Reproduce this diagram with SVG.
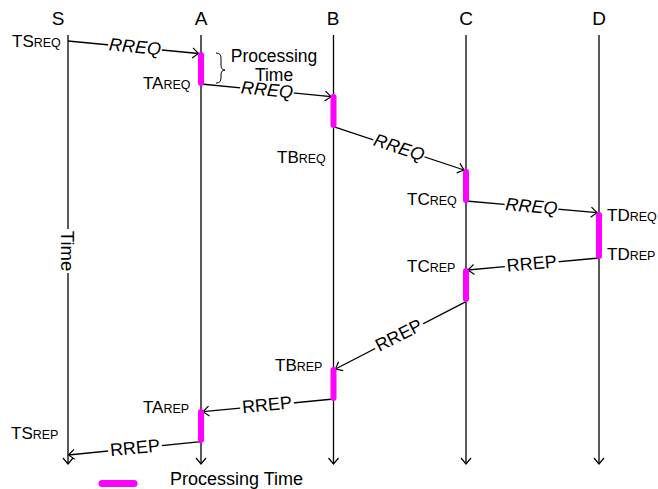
<svg xmlns="http://www.w3.org/2000/svg" width="658" height="489" viewBox="0 0 658 489">
<defs>
<style>
text{font-family:"Liberation Sans",Arial,sans-serif;fill:#000}
.hdr{font-size:19px;text-anchor:middle}
.t{font-size:17px}
.sub{font-size:12.5px}
.lbl{font-size:18px;text-anchor:middle}
.ann{font-size:17.5px;text-anchor:middle}
.it{font-style:italic}
.life{stroke:#000;stroke-width:1.3;fill:none}
.msg{stroke:#000;stroke-width:1.3;fill:none;marker-end:url(#ah)}
.bar{stroke:#FF00FF;stroke-width:6;stroke-linecap:round;fill:none}
.bg{fill:#fff}
</style>
<marker id="ah" markerUnits="userSpaceOnUse" viewBox="-8 -7 10 14" refX="0" refY="0" markerWidth="10" markerHeight="14" orient="auto">
<path d="M-6,-5 L0,0 L-6,5" fill="none" stroke="#000" stroke-width="1.2"/>
</marker>
</defs>

<g id="lifelines">
<g id="node-S"><text class="hdr" x="58" y="25">S</text><line class="life" x1="68" y1="35" x2="68" y2="464" marker-end="url(#ah)"/></g>
<g id="node-A"><text class="hdr" x="201" y="25">A</text><line class="life" x1="201" y1="35" x2="201" y2="464" marker-end="url(#ah)"/></g>
<g id="node-B"><text class="hdr" x="333" y="25">B</text><line class="life" x1="333.5" y1="35" x2="333.5" y2="464" marker-end="url(#ah)"/></g>
<g id="node-C"><text class="hdr" x="466" y="25">C</text><line class="life" x1="466" y1="35" x2="466" y2="464" marker-end="url(#ah)"/></g>
<g id="node-D"><text class="hdr" x="599" y="25">D</text><line class="life" x1="599" y1="35" x2="599" y2="464" marker-end="url(#ah)"/></g>
</g>

<g id="time-label" transform="translate(61,251) rotate(90)">
<rect class="bg" x="-22" y="-15" width="44" height="18"/>
<text x="0" y="0" style="font-size:18.5px;text-anchor:middle">Time</text>
</g>

<g id="connectors">
<line class="msg" x1="68" y1="41" x2="198.5" y2="53.5"/>
<line class="msg" x1="201" y1="84" x2="331" y2="96.7"/>
<line class="msg" x1="333.5" y1="126.7" x2="464" y2="170"/>
<line class="msg" x1="466" y1="201" x2="597" y2="212.7"/>
<line class="msg" x1="599" y1="258" x2="468" y2="270"/>
<line class="msg" x1="466" y1="301.7" x2="335.5" y2="369"/>
<line class="msg" x1="333.5" y1="399" x2="203" y2="411.7"/>
<line class="msg" x1="201" y1="441.7" x2="68.5" y2="455"/>

<g transform="translate(135,47.3) rotate(5.4)"><rect class="bg" x="-27" y="-8" width="54" height="15"/><text class="lbl it" x="0" y="5.5">RREQ</text></g>
<g transform="translate(267,90.3) rotate(5.5)"><rect class="bg" x="-27" y="-8" width="54" height="15"/><text class="lbl it" x="0" y="5.5">RREQ</text></g>
<g transform="translate(399,148) rotate(18.2)"><rect class="bg" x="-27" y="-8" width="54" height="15"/><text class="lbl it" x="0" y="5.5">RREQ</text></g>
<g transform="translate(531.5,206.8) rotate(5.0)"><rect class="bg" x="-27" y="-8" width="54" height="15"/><text class="lbl it" x="0" y="5.5">RREQ</text></g>
<g transform="translate(531.7,264.1) rotate(-5.2)"><rect class="bg" x="-27" y="-8" width="54" height="15"/><text class="lbl" x="0" y="5.5">RREP</text></g>
<g transform="translate(399,335.8) rotate(-27.1)"><rect class="bg" x="-27" y="-8" width="54" height="15"/><text class="lbl" x="0" y="5.5">RREP</text></g>
<g transform="translate(267,405.3) rotate(-5.5)"><rect class="bg" x="-27" y="-8" width="54" height="15"/><text class="lbl" x="0" y="5.5">RREP</text></g>
<g transform="translate(135,448.3) rotate(-5.7)"><rect class="bg" x="-27" y="-8" width="54" height="15"/><text class="lbl" x="0" y="5.5">RREP</text></g>
</g>

<g id="processing-bars">
<line class="bar" x1="201" y1="55" x2="201" y2="83"/>
<line class="bar" x1="333.5" y1="97" x2="333.5" y2="125"/>
<line class="bar" x1="466" y1="172" x2="466" y2="200"/>
<line class="bar" x1="599" y1="215" x2="599" y2="256"/>
<line class="bar" x1="466" y1="271" x2="466" y2="299"/>
<line class="bar" x1="333.5" y1="370" x2="333.5" y2="398"/>
<line class="bar" x1="201" y1="412" x2="201" y2="440"/>
</g>

<g id="annotation-processing">
<path d="M216,53 Q221,53 221,58 L221,65 Q221,70 225,70 Q221,70 221,75 L221,78 Q221,83 216,83" fill="none" stroke="#000" stroke-width="1"/>
<text class="ann" x="274" y="61.5">Processing</text>
<text class="ann" x="274" y="80.5">Time</text>
</g>

<g id="timestamps">
<text class="t" x="12" y="47">TS<tspan class="sub">REQ</tspan></text>
<text class="t" x="143" y="89">TA<tspan class="sub">REQ</tspan></text>
<text class="t" x="277" y="163">TB<tspan class="sub">REQ</tspan></text>
<text class="t" x="407" y="205">TC<tspan class="sub">REQ</tspan></text>
<text class="t" x="607" y="221">TD<tspan class="sub">REQ</tspan></text>
<text class="t" x="607" y="260">TD<tspan class="sub">REP</tspan></text>
<text class="t" x="407" y="272">TC<tspan class="sub">REP</tspan></text>
<text class="t" x="275" y="371">TB<tspan class="sub">REP</tspan></text>
<text class="t" x="143" y="413">TA<tspan class="sub">REP</tspan></text>
<text class="t" x="11" y="439">TS<tspan class="sub">REP</tspan></text>
</g>

<g id="legend">
<line class="bar" x1="102" y1="483.5" x2="134" y2="483.5" style="stroke-width:7"/>
<text x="170" y="485" style="font-size:18px">Processing Time</text>
</g>
</svg>
